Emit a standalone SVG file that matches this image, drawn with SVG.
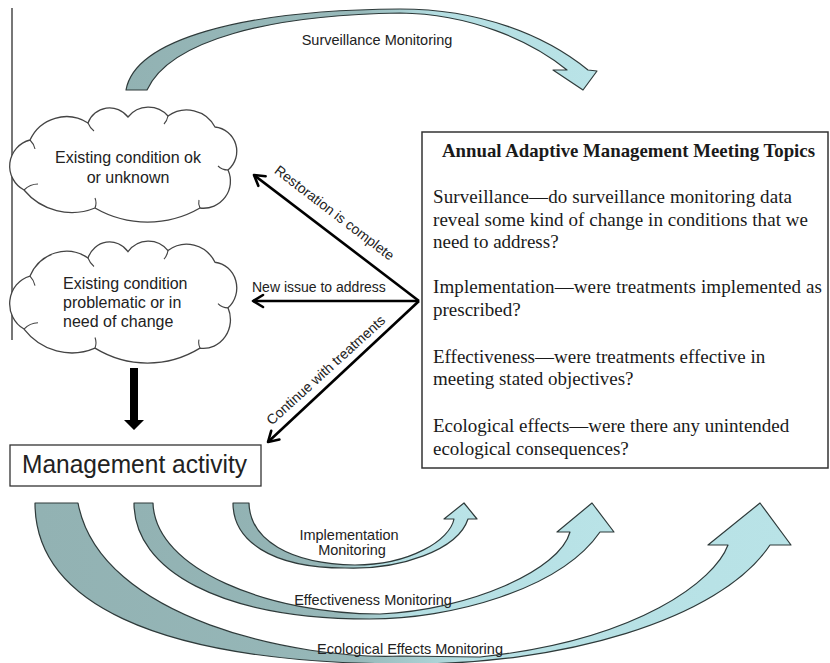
<svg xmlns="http://www.w3.org/2000/svg" width="830" height="663" viewBox="0 0 830 663">
<style>
.sans{font-family:"Liberation Sans",Arial,sans-serif;fill:#222}
.serif{font-family:"Liberation Serif","Times New Roman",serif;fill:#1a1a1a;font-size:19px}
.cloud{fill:#fff;stroke:#444;stroke-width:1.3}
.crease{fill:none;stroke:#444;stroke-width:1.1}
.band{stroke:#2e3a3a;stroke-width:1.2;stroke-linejoin:round}
.conn{fill:none;stroke:#000;stroke-width:2.6}
.lbl{font-size:14px}
.mon{font-size:14.5px}
</style>
<defs>
<linearGradient id="gTop" x1="0" y1="0" x2="1" y2="0">
<stop offset="0" stop-color="#92b2b3"/><stop offset="0.5" stop-color="#98babb"/><stop offset="0.66" stop-color="#b4dee2"/><stop offset="1" stop-color="#b9e3e7"/>
</linearGradient>
<linearGradient id="gBot" x1="0" y1="0" x2="1" y2="0">
<stop offset="0" stop-color="#92b2b3"/><stop offset="0.42" stop-color="#96b7b8"/><stop offset="0.58" stop-color="#b5dfe3"/><stop offset="1" stop-color="#b9e3e7"/>
</linearGradient>
<marker id="ah" viewBox="-13 -8 15 16" refX="0" refY="0" markerWidth="15" markerHeight="16" markerUnits="userSpaceOnUse" orient="auto">
<path d="M-10,-6 L0,0 L-10,6" fill="none" stroke="#000" stroke-width="2.6" stroke-linecap="round" stroke-linejoin="round"/>
</marker>
<g id="cloudShape">
<path class="cloud" vector-effect="non-scaling-stroke" d="M24,190 A27,27 0 0 1 30,140 A40,40 0 0 1 88,123 A23,23 0 0 1 128,117 A26,26 0 0 1 168,116 A32,32 0 0 1 215,127 A24.4,24.4 0 0 1 228,170 A27,27 0 0 1 200,208 A105,105 0 0 1 95,208 A62,62 0 0 1 24,190 Z"/>
<path class="crease" vector-effect="non-scaling-stroke" d="M24,190 q6,-6 14,-6 M88,123 q2,5 6,8 M168,116 q-1,5 -4,8 M228,170 q-6,0 -10,-4 M95,208 q2,-5 0,-10 M200,208 q-2,-4 -1,-8 M30,140 q4,4 5,9"/>
</g>
</defs>

<rect width="830" height="663" fill="#fff"/>
<line x1="12" y1="8" x2="12" y2="340" stroke="#777" stroke-width="2"/>

<g id="surveillance-arrow">
<path class="band" fill="url(#gTop)" d="M126,90 C135,40 240,10 400,9 C480,9 545,35 588,70 L597,71 L583,90 L553,70 L567,70 C530,40 470,14 400,13 C270,15 170,40 147,90 Z"/>
<text class="sans mon" x="377" y="45" text-anchor="middle">Surveillance Monitoring</text>
</g>

<g id="cloud-ok">
<use href="#cloudShape"/>
<text class="sans" font-size="16" x="128" y="163" text-anchor="middle">Existing condition ok</text>
<text class="sans" font-size="16" x="128" y="183" text-anchor="middle">or unknown</text>
</g>

<g id="cloud-problem">
<use href="#cloudShape" transform="translate(0,240) scale(1,1.06) translate(0,-106)"/>
<text class="sans" font-size="16" x="63" y="289">Existing condition</text>
<text class="sans" font-size="16" x="63" y="308">problematic or in</text>
<text class="sans" font-size="16" x="63" y="327">need of change</text>
</g>

<g id="management-activity">
<rect x="10" y="445" width="251" height="41" fill="#fff" stroke="#333" stroke-width="1.3"/>
<text class="sans" font-size="26" x="22" y="473" textLength="225" lengthAdjust="spacingAndGlyphs">Management activity</text>
</g>

<g id="meeting-topics">
<rect x="422" y="132" width="406" height="336" fill="#fff" stroke="#333" stroke-width="1.5"/>
<text class="serif" font-weight="bold" x="442" y="157" textLength="373" lengthAdjust="spacingAndGlyphs">Annual Adaptive Management Meeting Topics</text>
<text class="serif" x="433" y="203" textLength="359" lengthAdjust="spacing">Surveillance—do surveillance monitoring data</text>
<text class="serif" x="433" y="226" textLength="375" lengthAdjust="spacing">reveal some kind of change in conditions that we</text>
<text class="serif" x="433" y="248">need to address?</text>
<text class="serif" x="433" y="293" textLength="389" lengthAdjust="spacing">Implementation—were treatments implemented as</text>
<text class="serif" x="433" y="316">prescribed?</text>
<text class="serif" x="433" y="363">Effectiveness—were treatments effective in</text>
<text class="serif" x="433" y="385">meeting stated objectives?</text>
<text class="serif" x="433" y="432">Ecological effects—were there any unintended</text>
<text class="serif" x="433" y="455">ecological consequences?</text>
</g>

<g id="monitoring-arrows">
<g id="implementation-monitoring">
<path class="band" fill="url(#gBot)" d="M233,503 C233,540 270,568 345,568 C400,570 458,550 468,519 L477,519 L464,503 L444,519 L454,519 C450,540 410,565 355,565 C290,564 250,540 249,503 Z"/>
<text class="sans mon" x="349" y="540" text-anchor="middle">Implementation</text>
<text class="sans mon" x="352" y="555" text-anchor="middle">Monitoring</text>
</g>
<g id="effectiveness-monitoring">
<path class="band" fill="url(#gBot)" d="M134,503 C134,570 220,619 370,619 C450,619 560,590 600,532 L614,532 L592,503 L557,532 L570,532 C560,570 470,610 380,614 C270,614 155,570 153,503 Z"/>
<text class="sans mon" x="373" y="605" text-anchor="middle">Effectiveness Monitoring</text>
</g>
<g id="ecological-monitoring">
<path class="band" fill="url(#gBot)" d="M35,503 C35,600 150,662 400,664 C560,666 720,620 770,545 L791,545 L760,503 L708,545 L728,545 C715,580 640,640 480,657 L400,656 C300,660 100,620 78,503 Z"/>
<text class="sans mon" x="410" y="654" text-anchor="middle">Ecological Effects Monitoring</text>
</g>
</g>

<g id="connectors">
<path d="M130,368 H138 V420 H144 L134,430 L124,420 H130 Z" fill="#000"/>
<line class="conn" x1="419" y1="301" x2="254" y2="175" marker-end="url(#ah)"/>
<line class="conn" x1="419" y1="301" x2="253" y2="301" marker-end="url(#ah)"/>
<line class="conn" x1="419" y1="301" x2="268" y2="442" marker-end="url(#ah)"/>
<text class="sans lbl" transform="translate(331.5,216.6) rotate(37.4)" text-anchor="middle">Restoration is complete</text>
<text class="sans lbl" x="252" y="292">New issue to address</text>
<text class="sans lbl" transform="translate(329,373.7) rotate(-42.3)" text-anchor="middle">Continue with treatments</text>
</g>
</svg>
